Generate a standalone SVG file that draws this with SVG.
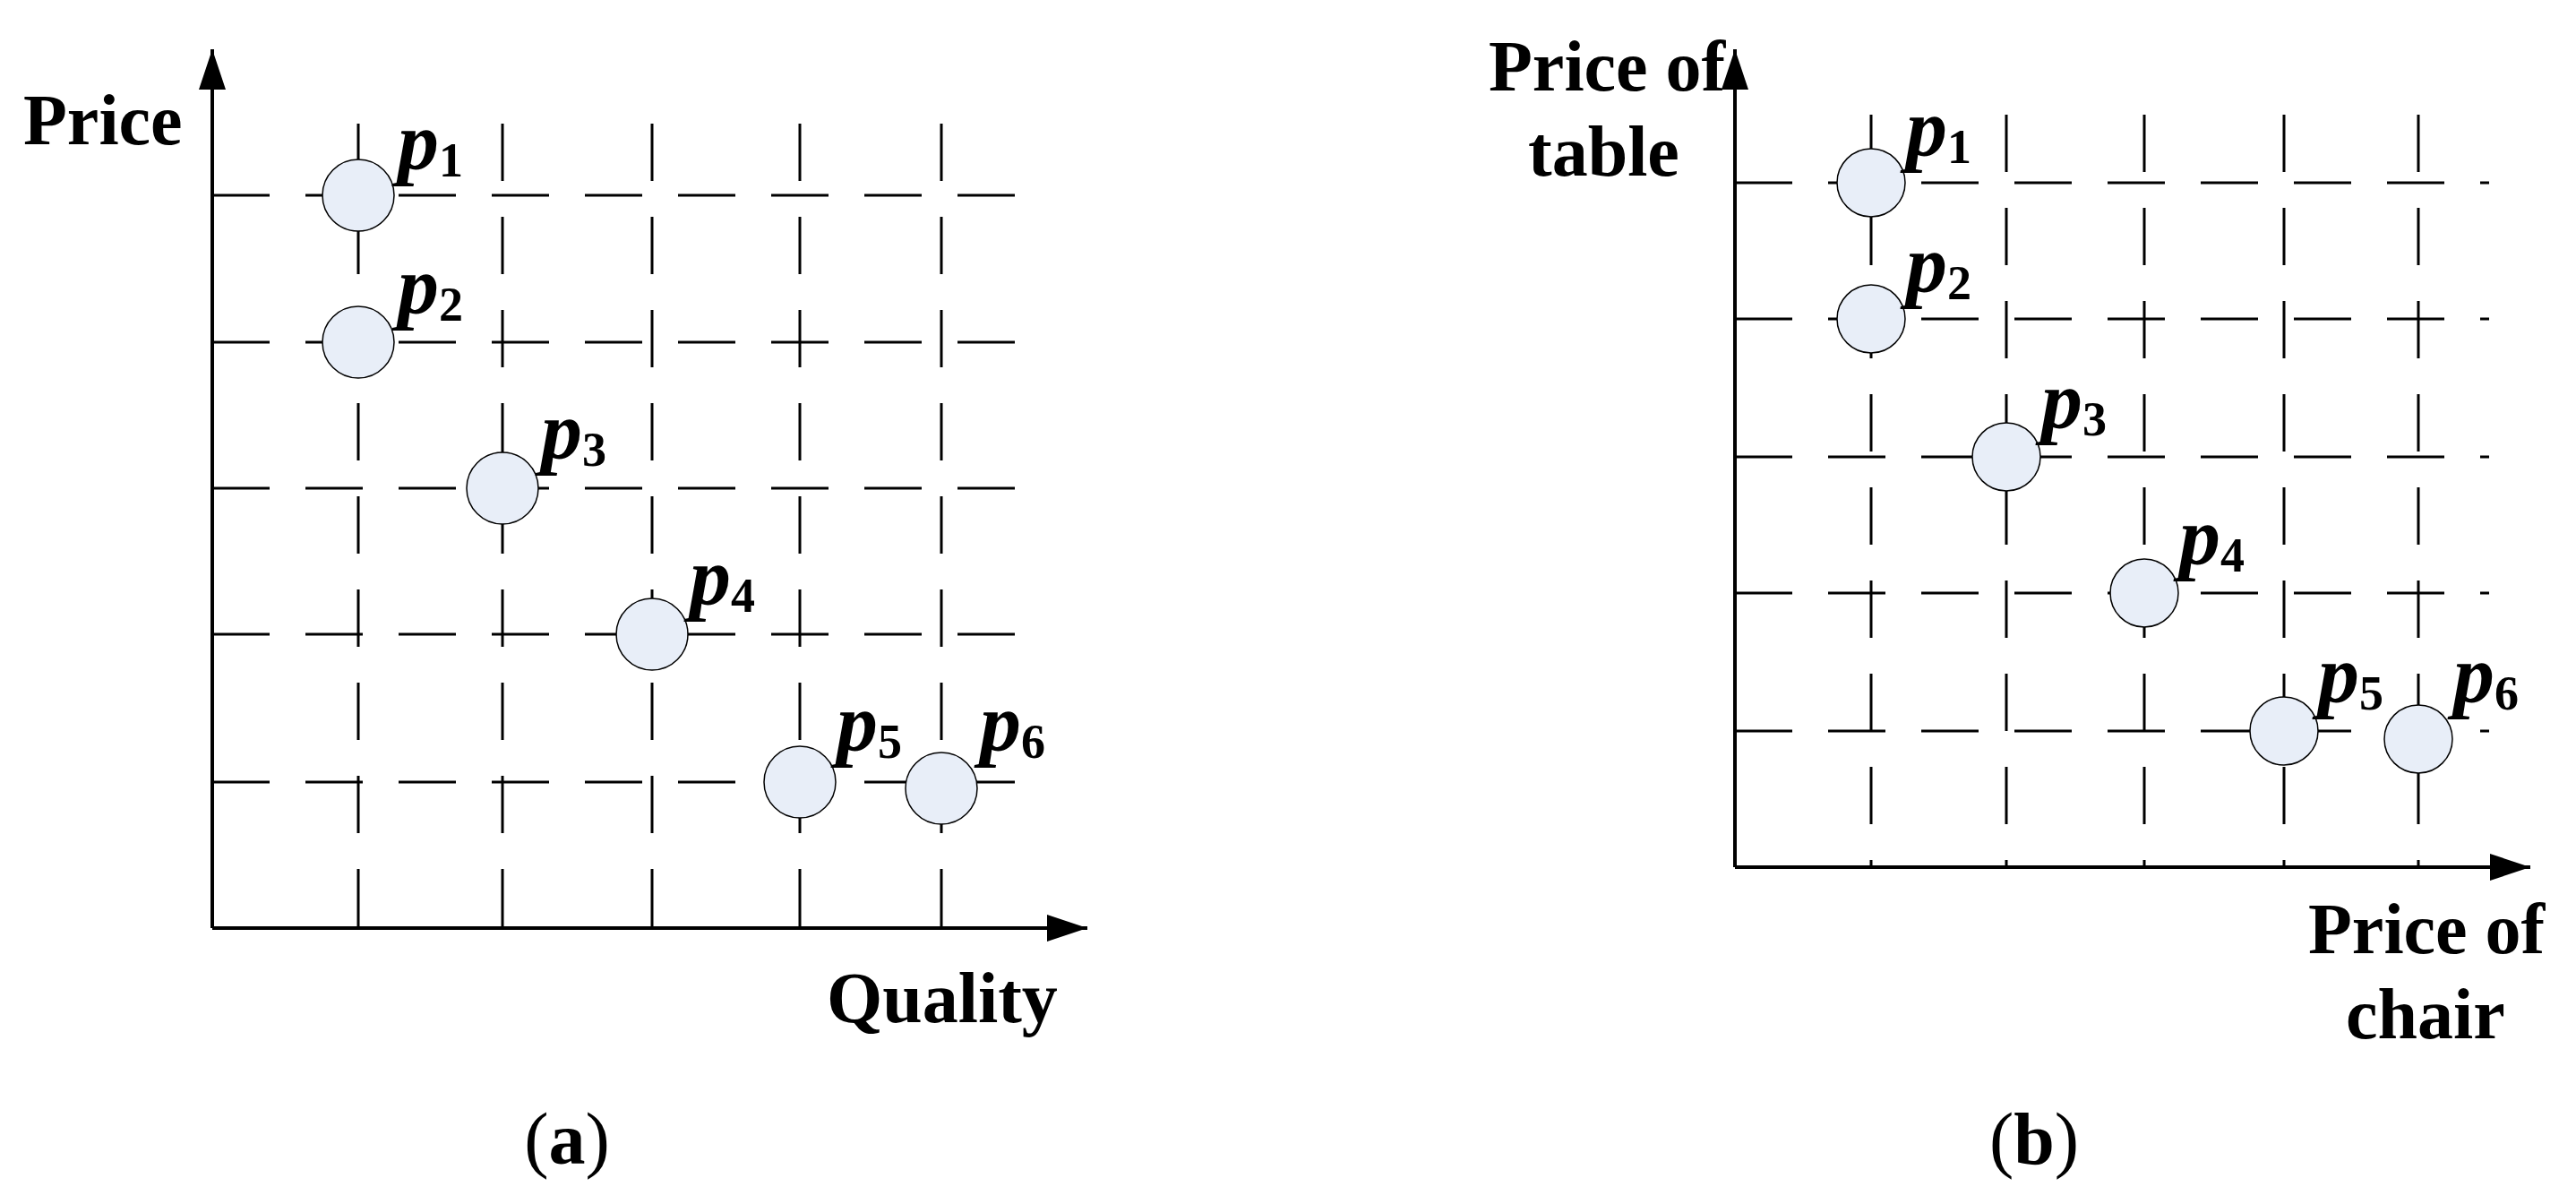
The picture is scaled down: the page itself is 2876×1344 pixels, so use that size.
<svg xmlns="http://www.w3.org/2000/svg" width="2876" height="1344" viewBox="0 0 2876 1344">
<style>
.g{stroke:#000;stroke-width:3;stroke-dasharray:64 40;fill:none}
.ax{stroke:#000;stroke-width:4;fill:none}
.pt{fill:#e8eef8;stroke:#000;stroke-width:1.5}
.t{font-family:"Liberation Serif",serif;font-weight:bold;font-size:80px;fill:#000}
.p{font-family:"Liberation Serif",serif;font-weight:bold;font-style:italic;font-size:92px;fill:#000}
.s{font-family:"Liberation Serif",serif;font-weight:bold;font-size:54px;font-style:normal}
.c{font-family:"Liberation Serif",serif;font-size:82px;fill:#000;text-anchor:middle}
</style>
<defs>
<marker id="ah" viewBox="0 0 12 8" refX="12" refY="4" markerWidth="48" markerHeight="30" orient="auto" markerUnits="userSpaceOnUse"><path d="M0,0L12,4L0,8z" fill="#000"/></marker>
</defs>
<g id="connectors">
<g class="g">
<path d="M237,218H1137M237,382H1137M237,545H1137M237,708H1137M237,873H1137"/>
<path d="M400,138V1036M561,138V1036M728,138V1036M893,138V1036M1051,138V1036"/>
</g>
<path class="ax" d="M237,1036V55" marker-end="url(#ah)"/>
<path class="ax" d="M237,1036H1214" marker-end="url(#ah)"/>
<g class="g">
<path d="M1937,204H2779M1937,356H2779M1937,510H2779M1937,662H2779M1937,816H2779"/>
<path d="M2089,128V968M2240,128V968M2394,128V968M2550,128V968M2700,128V968"/>
</g>
<path class="ax" d="M1937,968V55" marker-end="url(#ah)"/>
<path class="ax" d="M1937,968H2825" marker-end="url(#ah)"/>
</g>
<g id="panel-a">
<text class="t" x="26" y="161">Price</text>
<text class="t" x="923" y="1141">Quality</text>
<text class="c" x="633" y="1299">(<tspan font-weight="bold">a</tspan>)</text>
<g id="a-p1"><circle class="pt" cx="400" cy="218" r="40"/><text class="p" x="444" y="189">p<tspan class="s" dy="8">1</tspan></text></g>
<g id="a-p2"><circle class="pt" cx="400" cy="382" r="40"/><text class="p" x="444" y="350">p<tspan class="s" dy="8">2</tspan></text></g>
<g id="a-p3"><circle class="pt" cx="561" cy="545" r="40"/><text class="p" x="604" y="512">p<tspan class="s" dy="8">3</tspan></text></g>
<g id="a-p4"><circle class="pt" cx="728" cy="708" r="40"/><text class="p" x="770" y="675">p<tspan class="s" dy="8">4</tspan></text></g>
<g id="a-p5"><circle class="pt" cx="893" cy="873" r="40"/><text class="p" x="934" y="838">p<tspan class="s" dy="8">5</tspan></text></g>
<g id="a-p6"><circle class="pt" cx="1051" cy="880" r="40"/><text class="p" x="1094" y="838">p<tspan class="s" dy="8">6</tspan></text></g>
</g>
<g id="panel-b">
<text class="t" x="1662" y="101">Price of</text>
<text class="t" x="1706" y="196">table</text>
<text class="t" x="2577" y="1064">Price of</text>
<text class="t" x="2619" y="1159">chair</text>
<text class="c" x="2271" y="1299">(<tspan font-weight="bold">b</tspan>)</text>
<g id="b-p1"><circle class="pt" cx="2089" cy="204" r="38"/><text class="p" x="2128" y="174">p<tspan class="s" dy="8">1</tspan></text></g>
<g id="b-p2"><circle class="pt" cx="2089" cy="356" r="38"/><text class="p" x="2128" y="326">p<tspan class="s" dy="8">2</tspan></text></g>
<g id="b-p3"><circle class="pt" cx="2240" cy="510" r="38"/><text class="p" x="2279" y="478">p<tspan class="s" dy="8">3</tspan></text></g>
<g id="b-p4"><circle class="pt" cx="2394" cy="662" r="38"/><text class="p" x="2433" y="630">p<tspan class="s" dy="8">4</tspan></text></g>
<g id="b-p5"><circle class="pt" cx="2550" cy="816" r="38"/><text class="p" x="2588" y="784">p<tspan class="s" dy="8">5</tspan></text></g>
<g id="b-p6"><circle class="pt" cx="2700" cy="825" r="38"/><text class="p" x="2739" y="784">p<tspan class="s" dy="8">6</tspan></text></g>
</g>
</svg>
